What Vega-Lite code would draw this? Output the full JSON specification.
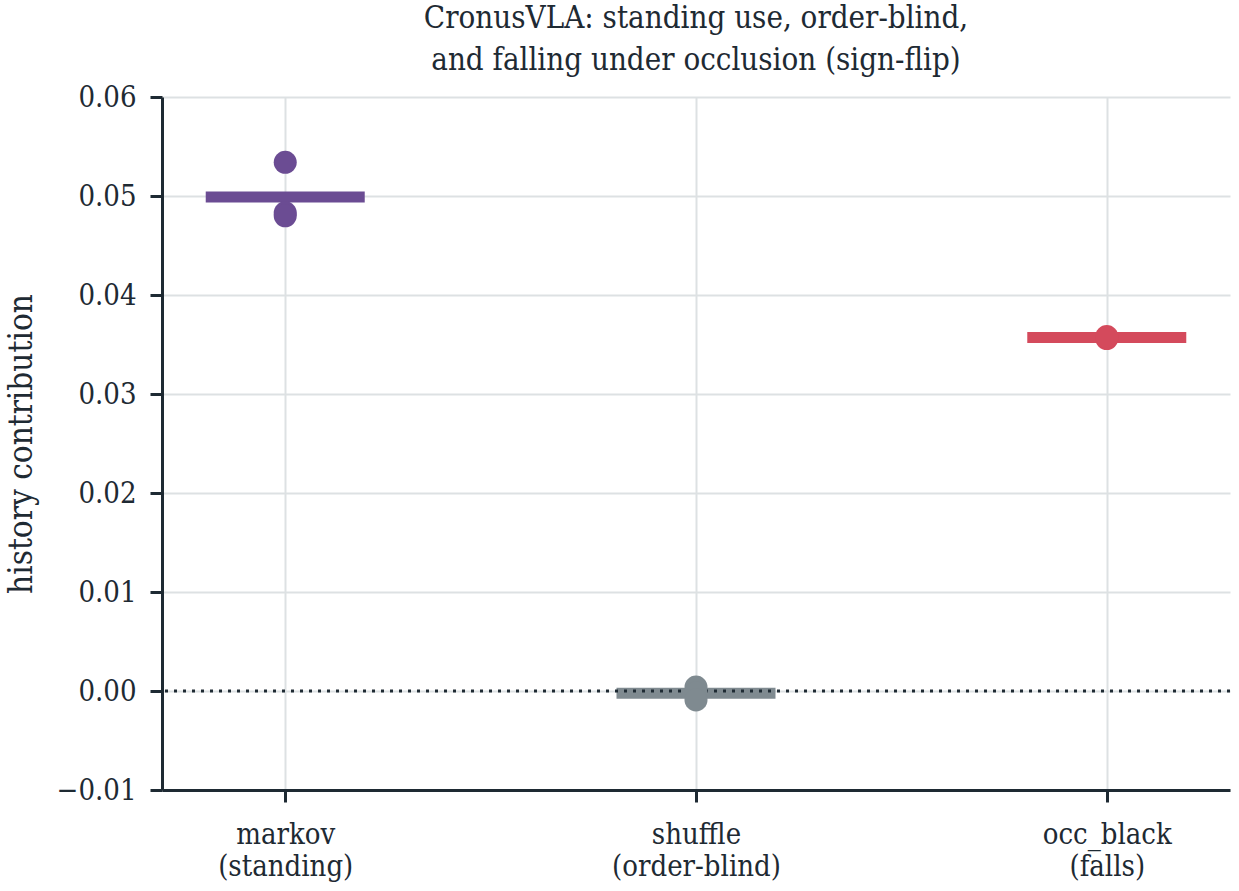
{
  "$schema": "https://vega.github.io/schema/vega-lite/v6.json",
  "autosize": "none",
  "width": 1068,
  "height": 693,
  "padding": {"left": 162, "top": 97, "right": 9, "bottom": 101},
  "background": "white",
  "config": {
    "font": "DejaVu Serif Condensed",
    "view": {"stroke": null}
  },
  "title": {
    "text": ["CronusVLA: standing use, order-blind,", "and falling under occlusion (sign-flip)"],
    "fontSize": 31,
    "fontWeight": "normal",
    "color": "#1e2a33",
    "lineHeight": 42,
    "offset": 6,
    "anchor": "middle"
  },
  "data": {
    "values": [
      {"condition": "markov", "value": 0.0534},
      {"condition": "markov", "value": 0.0483},
      {"condition": "markov", "value": 0.0480},
      {"condition": "shuffle", "value": 0.0004},
      {"condition": "shuffle", "value": -0.0002},
      {"condition": "shuffle", "value": -0.0009},
      {"condition": "occ_black", "value": 0.0356},
      {"condition": "occ_black", "value": 0.0357},
      {"condition": "occ_black", "value": 0.0358}
    ]
  },
  "encoding": {
    "x": {
      "field": "condition",
      "type": "nominal",
      "sort": ["markov", "shuffle", "occ_black"],
      "scale": {"type": "point", "padding": 0.3},
      "axis": {
        "title": null,
        "labelAngle": 0,
        "labelFontSize": 29,
        "labelColor": "#1e2a33",
        "labelLineHeight": 32,
        "labelPadding": 18,
        "labelExpr": "datum.value == 'markov' ? ['markov', '(standing)'] : datum.value == 'shuffle' ? ['shuffle', '(order-blind)'] : ['occ_black', '(falls)']",
        "domainColor": "#1e2a33",
        "domainWidth": 3,
        "tickColor": "#1e2a33",
        "tickWidth": 3,
        "tickSize": 12,
        "grid": true,
        "gridColor": "#dde1e3",
        "gridWidth": 2
      }
    }
  },
  "layer": [
    {
      "mark": {"type": "tick", "size": 159, "thickness": 11, "opacity": 1},
      "encoding": {
        "y": {
          "aggregate": "mean",
          "field": "value",
          "type": "quantitative",
          "scale": {"domain": [-0.01, 0.06], "nice": false, "zero": false},
          "axis": {
            "title": "history contribution",
            "titleFontSize": 33,
            "titleFontWeight": "normal",
            "titleColor": "#1e2a33",
            "titlePadding": 18,
            "labelFontSize": 29,
            "labelColor": "#1e2a33",
            "labelPadding": 14,
            "format": ".2f",
            "values": [-0.01, 0, 0.01, 0.02, 0.03, 0.04, 0.05, 0.06],
            "domainColor": "#1e2a33",
            "domainWidth": 3,
            "tickColor": "#1e2a33",
            "tickWidth": 3,
            "tickSize": 12,
            "grid": true,
            "gridColor": "#dde1e3",
            "gridWidth": 2
          }
        },
        "color": {
          "field": "condition",
          "type": "nominal",
          "scale": {"domain": ["markov", "shuffle", "occ_black"], "range": ["#6b4c93", "#7f8a90", "#d44a5c"]},
          "legend": null
        }
      }
    },
    {
      "data": {"values": [{"ref": 0}]},
      "mark": {"type": "rule", "color": "#1e2a33", "strokeWidth": 3, "strokeDash": [3, 6]},
      "encoding": {
        "x": null,
        "y": {"field": "ref", "type": "quantitative"}
      }
    },
    {
      "mark": {"type": "circle", "size": 530, "opacity": 1},
      "encoding": {
        "y": {"field": "value", "type": "quantitative"},
        "color": {"field": "condition", "type": "nominal", "legend": null}
      }
    }
  ]
}
